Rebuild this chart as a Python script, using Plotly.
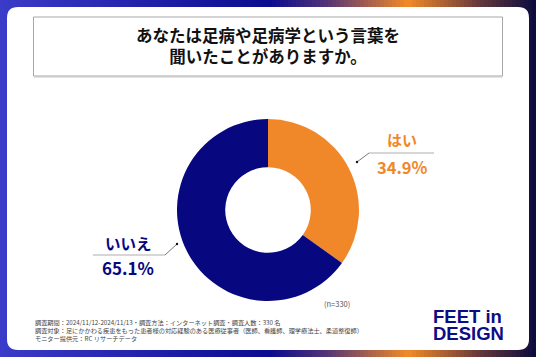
import plotly.graph_objects as go

# ---- data ----
labels = ["はい", "いいえ"]
values = [34.9, 65.1]
pct_text = ["34.9%", "65.1%"]
colors = ["#f0882a", "#07077f"]
title_lines = ["あなたは足病や足病学という言葉を", "聞いたことがありますか。"]
n_note = "(n=330)"
footer_lines = [
    "調査期間：2024/11/12-2024/11/13・調査方法：インターネット調査・調査人数：330 名",
    "調査対象：足にかかわる疾患をもった患者様の対応経験のある医療従事者（医師、看護師、理学療法士、柔道整復師）",
    "モニター提供元：RC リサーチデータ",
]
logo_lines = ["FEET in", "DESIGN"]

W, H = 536, 357
JP = "Noto Sans CJK JP"

fig = go.Figure()

fig.update_layout(
    width=W, height=H,
    margin=dict(l=0, r=0, t=0, b=0),
    paper_bgcolor="white", plot_bgcolor="rgba(0,0,0,0)",
    showlegend=False,
    xaxis=dict(range=[0, W], visible=False, domain=[0, 1], fixedrange=True),
    yaxis=dict(range=[H, 0], visible=False, domain=[0, 1], fixedrange=True),
)
fig.add_trace(go.Scatter(x=[0, W], y=[0, H], mode="markers", marker=dict(opacity=0), hoverinfo="skip"))

# ---- background gradient ----
stops = [(0, (59, 59, 201)), (270, (11, 11, 143)), (325, (80, 50, 120)),
         (408, (242, 138, 40)), (480, (100, 55, 60)), (536, (10, 10, 60))]

def col_at(x):
    for (x0, c0), (x1, c1) in zip(stops[:-1], stops[1:]):
        if x0 <= x <= x1:
            t = (x - x0) / (x1 - x0)
            return "rgb(%d,%d,%d)" % tuple(round(a + (b - a) * t) for a, b in zip(c0, c1))
    return "rgb(10,10,60)"

shapes = []
step = 4
for x in range(0, W, step):
    shapes.append(dict(type="rect", xref="x", yref="y", x0=x, x1=x + step + 0.5, y0=0, y1=H,
                       fillcolor=col_at(x + step / 2), line=dict(width=0), layer="below"))

x0, x1, y0, y1, r = 7, 529, 7, 350, 11
path = (f"M {x0+r},{y0} L {x1-r},{y0} Q {x1},{y0} {x1},{y0+r} L {x1},{y1-r} "
        f"Q {x1},{y1} {x1-r},{y1} L {x0+r},{y1} Q {x0},{y1} {x0},{y1-r} L {x0},{y0+r} "
        f"Q {x0},{y0} {x0+r},{y0} Z")
shapes.append(dict(type="path", xref="x", yref="y", path=path, fillcolor="white",
                   line=dict(width=0), layer="below"))

shapes.append(dict(type="rect", xref="x", yref="y", x0=33.5, x1=502.5, y0=17, y1=76,
                   fillcolor="white", line=dict(color="#a8a8a8", width=1), layer="below"))
shapes.append(dict(type="line", xref="x", yref="y", x0=34, x1=502.5, y0=76.8, y1=76.8,
                   line=dict(color="#c8c8c8", width=1.2), layer="below"))

shapes += [
    dict(type="line", xref="x", yref="y", x0=357, y0=162, x1=369, y1=153, line=dict(color="#777", width=1)),
    dict(type="line", xref="x", yref="y", x0=369, y0=153, x1=434, y1=153, line=dict(color="#c8c8c8", width=1.5)),
    dict(type="circle", xref="x", yref="y", x0=355.8, x1=358.2, y0=160.8, y1=163.2,
         fillcolor="#111", line=dict(width=0)),
    dict(type="line", xref="x", yref="y", x0=177, y0=244, x1=165, y1=255, line=dict(color="#777", width=1)),
    dict(type="line", xref="x", yref="y", x0=93, y0=255, x1=165, y1=255, line=dict(color="#c8c8c8", width=1.5)),
    dict(type="circle", xref="x", yref="y", x0=175.8, x1=178.2, y0=242.8, y1=245.2,
         fillcolor="#111", line=dict(width=0)),
]
fig.update_layout(shapes=shapes)

# ---- donut ----
cx, cy, R = 268, 210, 91
fig.add_trace(go.Pie(
    labels=labels, values=values, hole=0.47, sort=False, direction="clockwise", rotation=0,
    marker=dict(colors=colors, line=dict(width=0)), textinfo="none", hoverinfo="label+percent",
    domain=dict(x=[(cx - R) / W, (cx + R) / W], y=[1 - (cy + R) / H, 1 - (cy - R) / H]),
))

ann = []
ann.append(dict(x=268, y=45.5, text="<b>" + "<br>".join(title_lines) + "</b>", showarrow=False,
                font=dict(family=JP, size=16.5, color="#111")))
ann.append(dict(x=402, y=139, text=f"<b>{labels[0]}</b>", showarrow=False,
                font=dict(family=JP, size=15, color=colors[0])))
ann.append(dict(x=402, y=167, text=f"<b>{pct_text[0]}</b>", showarrow=False,
                font=dict(family=JP, size=16.5, color=colors[0])))
ann.append(dict(x=128, y=243, text=f"<b>{labels[1]}</b>", showarrow=False,
                font=dict(family=JP, size=15.5, color=colors[1])))
ann.append(dict(x=128, y=267, text=f"<b>{pct_text[1]}</b>", showarrow=False,
                font=dict(family=JP, size=17, color=colors[1])))
ann.append(dict(x=337, y=303, text=n_note, showarrow=False,
                font=dict(family=JP, size=7.5, color="#555")))
ann.append(dict(x=33, y=330.3, text="<br>".join(footer_lines), showarrow=False, xanchor="left",
                align="left", font=dict(family=JP, size=6.2, color="#444")))
for i, t in enumerate(logo_lines):
    ann.append(dict(x=432, y=316.6 + i * 16.6, text=f"<b>{t}</b>", showarrow=False,
                    xanchor="left", align="left", borderpad=0,
                    font=dict(family="Liberation Sans", size=18.5, color="#0c0c85")))

for a in ann:
    a.update(xref="x", yref="y")
fig.update_layout(annotations=ann)

fig.write_html("out.html", config={"displayModeBar": False},
               post_script="document.body.style.margin='0';document.body.style.padding='0';document.body.style.overflow='hidden';")
